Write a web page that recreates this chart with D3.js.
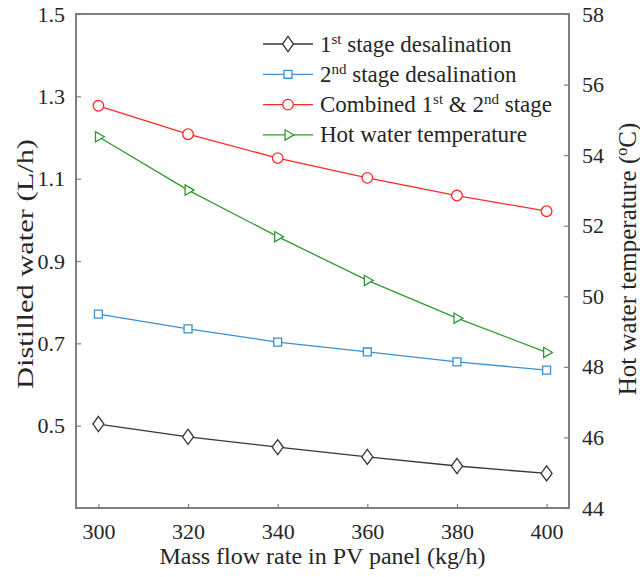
<!DOCTYPE html>
<html>
<head>
<meta charset="utf-8">
<script src="https://cdn.jsdelivr.net/npm/d3@7"></script>
<style>
  html, body { margin: 0; padding: 0; background: #fff; }
  svg text { font-family: "Liberation Serif", "Times New Roman", serif; fill: #262626; }
</style>
</head>
<body>
<svg id="chart"></svg>
<script>
// data
const flowRates = [300, 320, 340, 360, 380, 400];
const stage1 = [0.504, 0.473, 0.448, 0.424, 0.402, 0.384];
const stage2 = [0.771, 0.735, 0.703, 0.679, 0.655, 0.635];
const combined = [1.277, 1.208, 1.150, 1.102, 1.059, 1.021];
const hotTemp = [54.52, 53.01, 51.69, 50.45, 49.38, 48.41];

const xTicks = [300, 320, 340, 360, 380, 400];
const yLeftTicks = [0.5, 0.7, 0.9, 1.1, 1.3, 1.5];
const yRightTicks = [44, 46, 48, 50, 52, 54, 56, 58];

const width = 640, height = 577;
const margin = {top: 14, right: 71, bottom: 69, left: 76};
const innerW = width - margin.left - margin.right;
const innerH = height - margin.top - margin.bottom;

const svg = d3.select('#chart')
    .attr('width', width)
    .attr('height', height);

const chart = svg.append('g')
    .attr('transform', `translate(${margin.left}, ${margin.top})`);

const xscale = d3.scaleLinear().domain([295, 405]).range([0, innerW]);
const yleft = d3.scaleLinear().domain([0.3, 1.5]).range([innerH, 0]);
const yright = d3.scaleLinear().domain([44, 58]).range([innerH, 0]);

const axisColor = '#7f7f7f';
const tickFont = 22;

// axes (ticks inside)
const xaxis = d3.axisBottom(xscale).tickValues(xTicks).tickSizeInner(-4).tickSizeOuter(0).tickPadding(15);
const yaxisL = d3.axisLeft(yleft).tickValues(yLeftTicks).tickFormat(d3.format('.1f')).tickSizeInner(-5).tickSizeOuter(0).tickPadding(11);
const yaxisR = d3.axisRight(yright).tickValues(yRightTicks).tickSizeInner(-5).tickSizeOuter(0).tickPadding(13);

function styleAxis(g){
    g.select('.domain').remove();
    g.selectAll('.tick line').attr('stroke', axisColor).attr('stroke-width', 1.2);
    g.selectAll('.tick text')
        .attr('font-size', tickFont)
        .attr('fill', '#262626');
}

chart.append('g').attr('transform', `translate(0, ${innerH})`).call(xaxis).call(styleAxis);
chart.append('g').call(yaxisL).call(styleAxis);
chart.append('g').attr('transform', `translate(${innerW}, 0)`).call(yaxisR).call(styleAxis);

// box
chart.append('rect')
    .attr('x', 0).attr('y', 0)
    .attr('width', innerW).attr('height', innerH)
    .attr('fill', 'none')
    .attr('stroke', axisColor)
    .attr('stroke-width', 2);

// narrow diamond like the reference
const narrowDiamond = {
    draw(ctx, size){
        const h = Math.sqrt(size) * 0.72, w = h * 0.73;
        ctx.moveTo(0, -h);
        ctx.lineTo(w, 0);
        ctx.lineTo(0, h);
        ctx.lineTo(-w, 0);
        ctx.closePath();
    }
};

const sym = {
    diamond: d3.symbol().type(narrowDiamond).size(110),
    square: d3.symbol().type(d3.symbolSquare2).size(80),
    circle: d3.symbol().type(d3.symbolCircle).size(88),
    triangle: d3.symbol().type(d3.symbolTriangle2).size(75)
};

const series = [
    {values: stage1, y: yleft, color: '#363636', marker: 'diamond', rot: 0,
     label: [['1'], ['st', true], [' stage desalination']]},
    {values: stage2, y: yleft, color: '#3b8fd5', marker: 'square', rot: 0,
     label: [['2'], ['nd', true], [' stage desalination']]},
    {values: combined, y: yleft, color: '#ff2a2a', marker: 'circle', rot: 0,
     label: [['Combined 1'], ['st', true], [' & 2'], ['nd', true], [' stage']]},
    {values: hotTemp, y: yright, color: '#2f9a2f', marker: 'triangle', rot: 90,
     label: [['Hot water temperature']]}
];

const line = d3.line();

series.forEach(s => {
    const pts = flowRates.map((f, i) => [xscale(f), s.y(s.values[i])]);
    chart.append('path')
        .attr('d', line(pts))
        .attr('fill', 'none')
        .attr('stroke', s.color)
        .attr('stroke-width', 1.3);
    chart.selectAll(null)
        .data(pts)
        .join('path')
        .attr('d', sym[s.marker]())
        .attr('transform', d => `translate(${d[0]}, ${d[1]}) rotate(${s.rot})`)
        .attr('fill', '#fff')
        .attr('stroke', s.color)
        .attr('stroke-width', 1.3);
});

// legend
const legend = svg.append('g').attr('transform', 'translate(263, 44)');
series.forEach((s, i) => {
    const row = legend.append('g').attr('transform', `translate(0, ${i * 30.3})`);
    row.append('line')
        .attr('x1', 0).attr('x2', 50)
        .attr('y1', 0).attr('y2', 0)
        .attr('stroke', s.color)
        .attr('stroke-width', 1.3);
    row.append('path')
        .attr('d', sym[s.marker]())
        .attr('transform', `translate(25, 0) rotate(${s.rot})`)
        .attr('fill', '#fff')
        .attr('stroke', s.color)
        .attr('stroke-width', 1.3);
    const t = row.append('text')
        .attr('x', 57).attr('y', 7.5)
        .attr('font-size', 23);
    s.label.forEach(p => {
        const span = t.append('tspan').text(p[0]);
        if (p[1]) span.attr('font-size', 15).attr('baseline-shift', '55%');
    });
});

// axis titles
svg.append('text')
    .attr('text-anchor', 'middle')
    .attr('font-size', 24)
    .attr('transform', `translate(${margin.left + innerW / 2}, 564)`)
    .text('Mass flow rate in PV panel (kg/h)');

svg.append('text')
    .attr('text-anchor', 'middle')
    .attr('font-size', 24)
    .attr('textLength', 250)
    .attr('lengthAdjust', 'spacingAndGlyphs')
    .attr('transform', `translate(33, 264) rotate(-90)`)
    .text('Distilled water (L/h)');

const rt = svg.append('text')
    .attr('text-anchor', 'middle')
    .attr('font-size', 25)
    .attr('transform', `translate(636, 259) rotate(-90)`);
rt.append('tspan').text('Hot water temperature (');
rt.append('tspan').text('o').attr('font-size', 16).attr('baseline-shift', '55%');
rt.append('tspan').text('C)');
</script>
</body>
</html>
